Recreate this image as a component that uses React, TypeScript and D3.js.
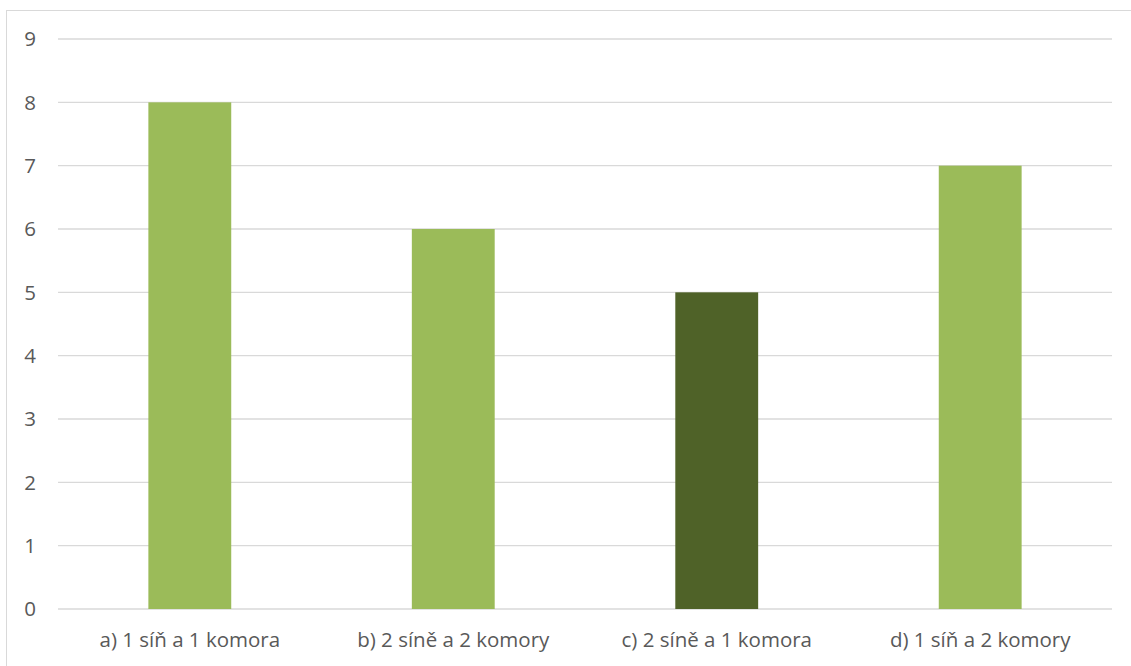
import React from "react";
import * as d3 from "d3";

const categories = ["a) 1 síň a 1 komora", "b) 2 síně a 2 komory", "c) 2 síně a 1 komora", "d) 1 síň a 2 komory"];
const values = [8, 6, 5, 7];
const barColors = ["#9BBB59", "#9BBB59", "#4F6228", "#9BBB59"];
const yTicks = [0, 1, 2, 3, 4, 5, 6, 7, 8, 9];

export default function App() {
  const W = 1131, H = 666;
  const x0 = 58, x1 = 1112, yTop = 39, yBot = 609;
  const x = d3.scaleBand<string>().domain(categories).range([x0, x1]).paddingInner(0.6855).paddingOuter(0.343);
  const y = d3.scaleLinear().domain([0, 9]).range([yBot, yTop]);
  const font = "'Open Sans', sans-serif";
  return (
    <svg width={W} height={H} style={{ position: "absolute", left: 0, top: 0, background: "#fff" }}>
      <rect x={6.5} y={10.5} width={W + 10} height={H + 10} fill="none" stroke="#D9D9D9" strokeWidth={1} />
      {yTicks.map((t) => (
        <g key={t}>
          <line x1={x0} x2={x1} y1={y(t)} y2={y(t)} stroke="#D9D9D9" strokeWidth={1.3} />
          <text x={30} y={y(t)} dy="0.36em" textAnchor="middle" fontFamily={font} fontSize={20.5} fill="#595959">{t}</text>
        </g>
      ))}
      {categories.map((c, i) => (
        <rect key={c} x={x(c)} y={y(values[i])} width={x.bandwidth()} height={yBot - y(values[i])} fill={barColors[i]} />
      ))}
      {categories.map((c) => (
        <text key={c} x={(x(c) as number) + x.bandwidth() / 2} y={647} textAnchor="middle" fontFamily={font} fontSize={20.5} fill="#595959">{c}</text>
      ))}
    </svg>
  );
}
